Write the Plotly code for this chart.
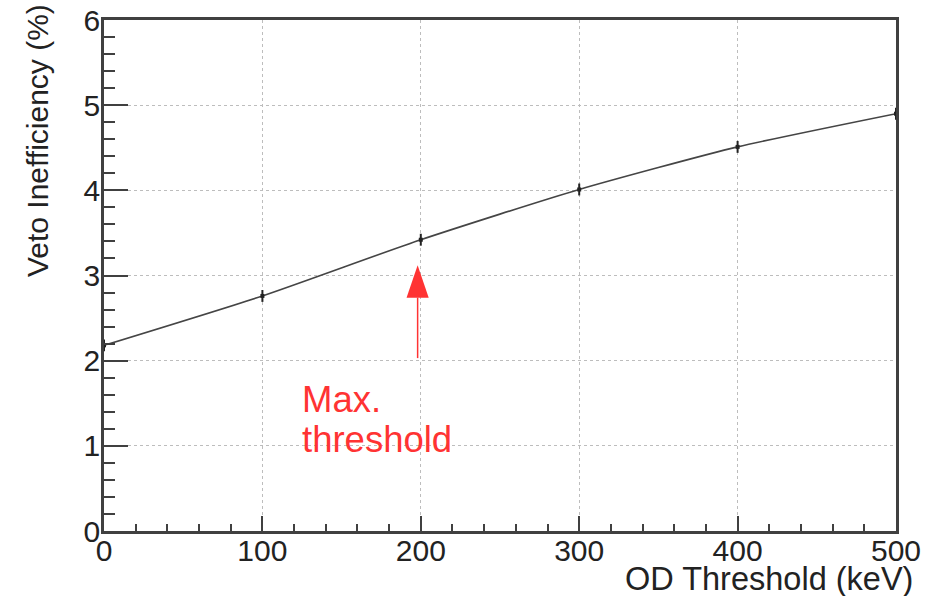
import plotly.graph_objects as go

# ---- data ----
od_threshold_kev = [0, 100, 200, 300, 400, 500]
veto_inefficiency_pct = [2.18, 2.76, 3.42, 4.01, 4.51, 4.90]
veto_err_pct = [0.07, 0.07, 0.07, 0.07, 0.07, 0.07]

x_tick_vals = [0, 100, 200, 300, 400, 500]
x_tick_text = ["0", "100", "200", "300", "400", "500"]
y_tick_vals = [0, 1, 2, 3, 4, 5, 6]
y_tick_text = ["0", "1", "2", "3", "4", "5", "6"]

# annotation arrow (data units)
arrow_x = 198
arrow_tip = 3.12
arrow_head_base = 2.74
arrow_tail = 2.03
arrow_half_w = 7.0

RED = "#ff3333"
AX = "#404040"
FONT = "Liberation Sans, Arial, sans-serif"

fig = go.Figure()
fig.add_trace(go.Scatter(
    x=od_threshold_kev, y=veto_inefficiency_pct,
    mode="lines+markers",
    line=dict(color="#454545", width=1.6, shape="spline", smoothing=0.6),
    marker=dict(color="#222222", size=4, symbol="square"),
    error_y=dict(type="data", array=veto_err_pct, visible=True,
                 color="#222222", thickness=2, width=0),
    cliponaxis=False,
    showlegend=False,
))

# arrow shaft and head
fig.add_shape(type="line", xref="x", yref="y",
              x0=arrow_x, x1=arrow_x, y0=arrow_tail, y1=arrow_head_base,
              line=dict(color=RED, width=1.5))
fig.add_shape(type="path", xref="x", yref="y",
              path=(f"M {arrow_x - arrow_half_w},{arrow_head_base} "
                    f"L {arrow_x},{arrow_tip} "
                    f"L {arrow_x + arrow_half_w},{arrow_head_base} Z"),
              fillcolor=RED, line=dict(width=0))

fig.add_annotation(x=124, y=1.54, xref="x", yref="y", text="Max.",
                   showarrow=False, xanchor="left", yanchor="middle",
                   font=dict(family=FONT, size=36.5, color=RED))
fig.add_annotation(x=124, y=1.07, xref="x", yref="y", text="threshold",
                   showarrow=False, xanchor="left", yanchor="middle",
                   font=dict(family=FONT, size=36.5, color=RED))

# axis titles (ROOT style, right-aligned)
fig.add_annotation(x=1.024, y=-0.094, xref="paper", yref="paper",
                   text="OD Threshold (keV)", showarrow=False,
                   xanchor="right", yanchor="middle",
                   font=dict(family=FONT, size=32.5, color="#222222"))
fig.add_annotation(x=-0.0846, y=0.765, xref="paper", yref="paper",
                   text="Veto Inefficiency (%)", showarrow=False,
                   textangle=-90, xanchor="center", yanchor="middle",
                   font=dict(family=FONT, size=30, color="#222222"))

fig.update_xaxes(
    range=[0, 500], tickvals=x_tick_vals, ticktext=x_tick_text,
    ticks="inside", ticklen=15, tickwidth=1.5, tickcolor=AX,
    minor=dict(ticks="inside", ticklen=7, dtick=20, tickcolor=AX, tickwidth=1.5,
               showgrid=False),
    showline=True, linewidth=2.5, linecolor=AX, mirror=True,
    showgrid=True, gridcolor="#bdbdbd", griddash="dot", gridwidth=1,
    zeroline=False, automargin=False, ticklabelstandoff=-9,
    tickfont=dict(family=FONT, size=30, color="#222222"),
)
fig.update_yaxes(
    range=[0, 6], tickvals=y_tick_vals, ticktext=y_tick_text,
    ticks="inside", ticklen=24, tickwidth=1.5, tickcolor=AX,
    minor=dict(ticks="inside", ticklen=11, dtick=0.2, tickcolor=AX, tickwidth=1.5,
               showgrid=False),
    showline=True, linewidth=2.5, linecolor=AX, mirror=True,
    showgrid=True, gridcolor="#bdbdbd", griddash="dot", gridwidth=1,
    zeroline=False, automargin=False, ticklabelstandoff=-5,
    tickfont=dict(family=FONT, size=30, color="#222222"),
)

fig.update_layout(
    width=934, height=596,
    margin=dict(l=104, r=38, t=20, b=65, autoexpand=False),
    paper_bgcolor="white", plot_bgcolor="white",
    font=dict(family=FONT),
)

fig.write_html("out.html", config={"displayModeBar": False},
               post_script="document.body.style.margin='0';")
